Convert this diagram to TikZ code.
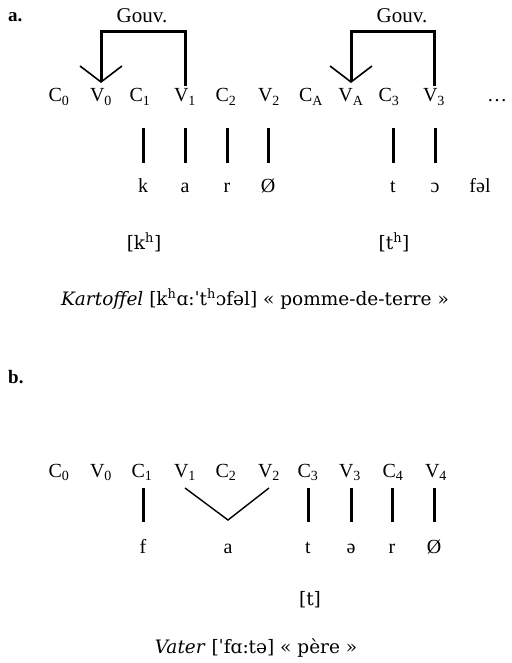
\documentclass[tikz,border=0pt]{standalone}
\usepackage{fontspec}
\setmainfont{Liberation Serif}
\newfontfamily\glossfont{DejaVu Serif}
\usepackage{tikz}
\usetikzlibrary{arrows.meta,positioning,calc}
\tikzset{
  lbl/.style={anchor=base, inner sep=0pt, font=\fontsize{20}{22}\selectfont},
  seg/.style={lbl},
  head/.style={anchor=base west, inner sep=0pt, font=\fontsize{19}{20}\selectfont\bfseries},
  gloss/.style={anchor=base, inner sep=0pt, font=\fontsize{18.5}{22}\glossfont},
  gouvtxt/.style={anchor=base, inner sep=0pt, font=\fontsize{21}{22}\selectfont},
  assoc/.style={draw=black, line width=3pt},
  gov/.style={draw=black, line width=3pt,
    -{Straight Barb[length=16pt, width=42pt, line width=1.6pt]}},
  spread/.style={draw=black, line width=1.4pt}
}
\newcommand{\ix}[1]{\textsubscript{#1}}
\begin{document}
\begin{tikzpicture}[x=1pt, y=-1pt]
  \useasboundingbox (0,0) rectangle (511,663);
  % a. KARTOFFEL
  \node[head] (ha) at (8,22) {a.};
  \node[lbl] (c0a) at (59,102) {C\ix{0}};
  \node[lbl] (v0a) at (101,102) {V\ix{0}};
  \node[lbl] (c1a) at (140,102) {C\ix{1}};
  \node[lbl] (v1a) at (185,102) {V\ix{1}};
  \node[lbl] (c2a) at (226,102) {C\ix{2}};
  \node[lbl] (v2a) at (269,102) {V\ix{2}};
  \node[lbl] (caa) at (311,102) {C\ix{A}};
  \node[lbl] (vaa) at (351,102) {V\ix{A}};
  \node[lbl] (c3a) at (389,102) {C\ix{3}};
  \node[lbl] (v3a) at (434,102) {V\ix{3}};
  \node[lbl] (dotsa) at (497,102) {\dots};
  \node[seg] (ka) at (143,193) {k};
  \node[seg] (aa) at (185,193) {a};
  \node[seg] (ra) at (227,193) {r};
  \node[seg] (za) at (268,193) {Ø};
  \node[seg] (ta) at (393,193) {t};
  \node[seg] (oa) at (435,193) {ɔ};
  \node[seg] (fla) at (480,193) {fəl};
  \coordinate (topa) at (0,128);
  \coordinate (bota) at (0,163);
  \foreach \s in {ka,aa,ra,za,ta,oa}
    \draw[assoc] (\s |- topa) -- (\s |- bota);
  % government
  \coordinate (gya) at (0,32);
  \coordinate (gsa) at (0,86);
  \coordinate (gta) at (0,83);
  \draw[gov] (v1a |- gsa) -- (v1a |- gya) -- (v0a |- gya) -- (v0a |- gta);
  \draw[gov] (v3a |- gsa) -- (v3a |- gya) -- (vaa |- gya) -- (vaa |- gta);
  \node[gouvtxt] (gouva) at (142,23) {Gouv.};
  \node[gouvtxt] (gouvb) at (402,23) {Gouv.};
  \node[gloss] (kh) at (144,249) {[k\textsuperscript{h}]};
  \node[gloss] (th) at (394,249) {[t\textsuperscript{h}]};
  \node[gloss] (kart) at (255,305)
    {\textit{Kartoffel} [k\textsuperscript{h}ɑ:ˈt\textsuperscript{h}ɔfəl] « pomme-de-terre »};
  % b. VATER
  \node[head] (hb) at (8,383) {b.};
  \node[lbl] (c0b) at (59,477) {C\ix{0}};
  \node[lbl] (v0b) at (101,477) {V\ix{0}};
  \node[lbl] (c1b) at (142,477) {C\ix{1}};
  \node[lbl] (v1b) at (185,477) {V\ix{1}};
  \node[lbl] (c2b) at (226,477) {C\ix{2}};
  \node[lbl] (v2b) at (269,477) {V\ix{2}};
  \node[lbl] (c3b) at (308,477) {C\ix{3}};
  \node[lbl] (v3b) at (350,477) {V\ix{3}};
  \node[lbl] (c4b) at (393,477) {C\ix{4}};
  \node[lbl] (v4b) at (436,477) {V\ix{4}};
  \node[seg] (fb) at (143,553) {f};
  \node[seg] (ab) at (228,553) {a};
  \node[seg] (tb) at (308,553) {t};
  \node[seg] (eb) at (351,553) {ə};
  \node[seg] (rb) at (392,553) {r};
  \node[seg] (zb) at (434,553) {Ø};
  \coordinate (topb) at (0,488);
  \coordinate (botb) at (0,522);
  \coordinate (vtip) at (0,520);
  \foreach \s in {fb,tb,eb,rb,zb}
    \draw[assoc] (\s |- topb) -- (\s |- botb);
  \draw[spread] (v1b |- topb) -- (ab |- vtip) -- (v2b |- topb);
  \node[gloss] (tt) at (310,605) {[t]};
  \node[gloss] (vat) at (256,653)
    {\textit{Vater} [ˈfɑ:tə] « père »};
\end{tikzpicture}
\end{document}
